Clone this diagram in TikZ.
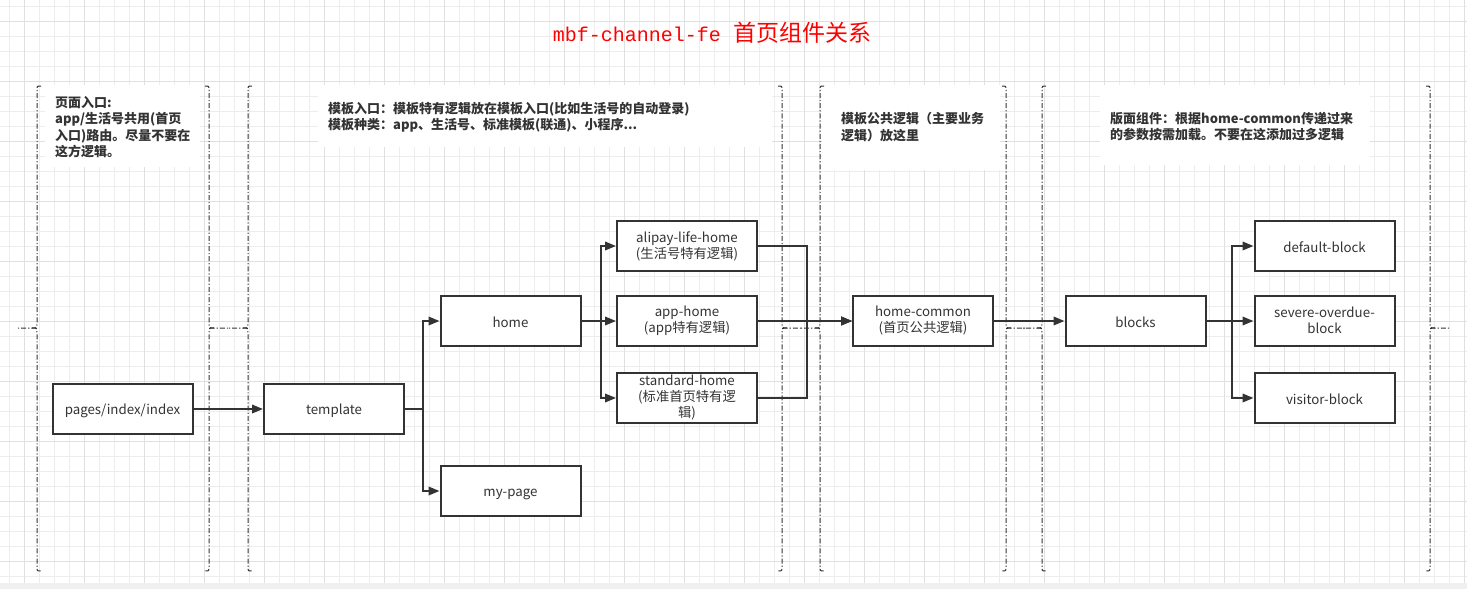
\documentclass[tikz,border=0pt]{standalone}
\usepackage{fontspec}
\setmainfont{Noto Sans CJK SC}
\newfontfamily\titlemono{Liberation Mono}
\usetikzlibrary{arrows.meta}
\definecolor{ink}{HTML}{333333}
\definecolor{gminor}{HTML}{EDEDED}
\definecolor{gmajor}{HTML}{E0E0E0}
\definecolor{titlered}{HTML}{FF0000}
\definecolor{stripgray}{HTML}{F0F0F0}
\newcommand\boxstrut{\rule[-2pt]{0pt}{16pt}}
\tikzset{
  gridminor/.style={draw=gminor, line width=0.8pt},
  gridmajor/.style={draw=gmajor, line width=0.8pt},
  brc/.style={draw=ink, line width=1pt, dash pattern=on 5pt off 2pt on 1.2pt off 2pt},
  whitebg/.style={fill=white, draw=none},
  box/.style={draw=ink, line width=2pt, fill=white, minimum width=140pt, minimum height=50pt,
    inner sep=0pt, align=center, text=ink, font=\fontsize{13.3}{16}\selectfont,
    execute at begin node={\boxstrut}, execute at end node={\boxstrut}},
  lab/.style={inner sep=0pt, anchor=base west, text=ink, font=\fontsize{13}{16.5}\selectfont\bfseries},
  conn/.style={draw=ink, line width=2pt, -{Triangle[length=11pt,width=8.5pt]}},
}
\newcommand\brL[1]{%
  \draw[brc] ({#1+4},86) .. controls (#1,86) .. (#1,90) -- (#1,323) .. controls (#1,328) .. ({#1-5},328) -- ({#1-19},328);
  \draw[brc] ({#1-5},328) .. controls (#1,328) .. (#1,333) -- (#1,567) .. controls (#1,571) .. ({#1+4},571);}
\newcommand\brR[1]{%
  \draw[brc] ({#1-4},86) .. controls (#1,86) .. (#1,90) -- (#1,323) .. controls (#1,328) .. ({#1+5},328) -- ({#1+19},328);
  \draw[brc] ({#1+5},328) .. controls (#1,328) .. (#1,333) -- (#1,567) .. controls (#1,571) .. ({#1-4},571);}
\begin{document}
\begin{tikzpicture}[x=1pt,y=-1pt]
\useasboundingbox (0,0) rectangle (1467,589);
\fill[white] (0,0) rectangle (1467,589);
% grid
\foreach \i in {0,...,97} {\draw[gridminor] ({9.7+15*\i},0) -- ({9.7+15*\i},583);}
\foreach \j in {0,...,38} {\draw[gridminor] (0,{6.3+15*\j}) -- (1467,{6.3+15*\j});}
\foreach \i in {0,...,24} {\draw[gridmajor] ({24.7+60*\i},0) -- ({24.7+60*\i},583);}
\foreach \j in {0,...,9} {\draw[gridmajor] (0,{21.3+60*\j}) -- (1467,{21.3+60*\j});}
\fill[stripgray] (0,583) rectangle (1467,589);
% title
\node[text=titlered, inner sep=0pt] (title) at (712,33)
  {{\titlemono\fontsize{20}{24}\selectfont mbf-channel-fe }{\fontsize{23}{24}\selectfont 首页组件关系}};
% white label backgrounds
\fill[whitebg] (45,85) rectangle (200,167);
\fill[whitebg] (318,85) rectangle (772,147);
\fill[whitebg] (822,85) rectangle (1000,170);
\fill[whitebg] (1100,85) rectangle (1370,165);
% braces
\brL{37}
\brR{209}
\brL{248}
\brR{782}
\brL{820}
\brR{1006}
\brL{1042}
\brR{1430}
% labels
\node[lab] (lab1) at (55,107) {\parbox[t]{160pt}{\raggedright 页面入口:\\app/生活号共用(首页\\入口)路由。尽量不要在\\这方逻辑。}};
\node[lab] (lab2) at (328,113) {\parbox[t]{440pt}{\raggedright 模板入口：模板特有逻辑放在模板入口(比如生活号的自动登录)\\模板种类：app、生活号、标准模板(联通)、小程序...}};
\node[lab] (lab3) at (841,123.5) {\parbox[t]{170pt}{\raggedright 模板公共逻辑（主要业务\\逻辑）放这里}};
\node[lab] (lab4) at (1110,123) {\parbox[t]{260pt}{\raggedright 版面组件：根据home-common传递过来\\的参数按需加载。不要在这添加过多逻辑}};
% nodes
\node[box] (pages) at (122.5,409) {pages/index/index};
\node[box] (template) at (334,409) {template};
\node[box] (home) at (510.5,321) {home};
\node[box] (mypage) at (510.5,491) {my-page};
\node[box] (alipay) at (687,246) {alipay-life-home\\(生活号特有逻辑)};
\node[box] (apph) at (687,321) {app-home\\(app特有逻辑)};
\node[box] (stdh) at (687,398) {standard-home\\(标准首页特有逻\\辑)};
\node[box] (hc) at (923,321) {home-common\\(首页公共逻辑)};
\node[box] (blocks) at (1135.5,321) {blocks};
\node[box] (defb) at (1324.5,246) {default-block};
\node[box] (sevb) at (1324.5,321) {severe-overdue-\\block};
\node[box] (visb) at (1324.5,398) {visitor-block};
% connectors
\draw[conn] (pages.east) -- (template.west);
\draw[conn] (template.east) -- ++(18,0) |- (home.west);
\draw[conn] (template.east) -- ++(18,0) |- (mypage.west);
\draw[conn] (home.east) -- ++(19,0) |- (alipay.west);
\draw[conn] (home.east) -- (apph.west);
\draw[conn] (home.east) -- ++(19,0) |- (stdh.west);
\draw[conn] (alipay.east) -- ++(49,0) |- (hc.west);
\draw[conn] (apph.east) -- (hc.west);
\draw[conn] (stdh.east) -- ++(49,0) |- (hc.west);
\draw[conn] (hc.east) -- (blocks.west);
\draw[conn] (blocks.east) -- ++(25,0) |- (defb.west);
\draw[conn] (blocks.east) -- (sevb.west);
\draw[conn] (blocks.east) -- ++(25,0) |- (visb.west);
\end{tikzpicture}
\end{document}
